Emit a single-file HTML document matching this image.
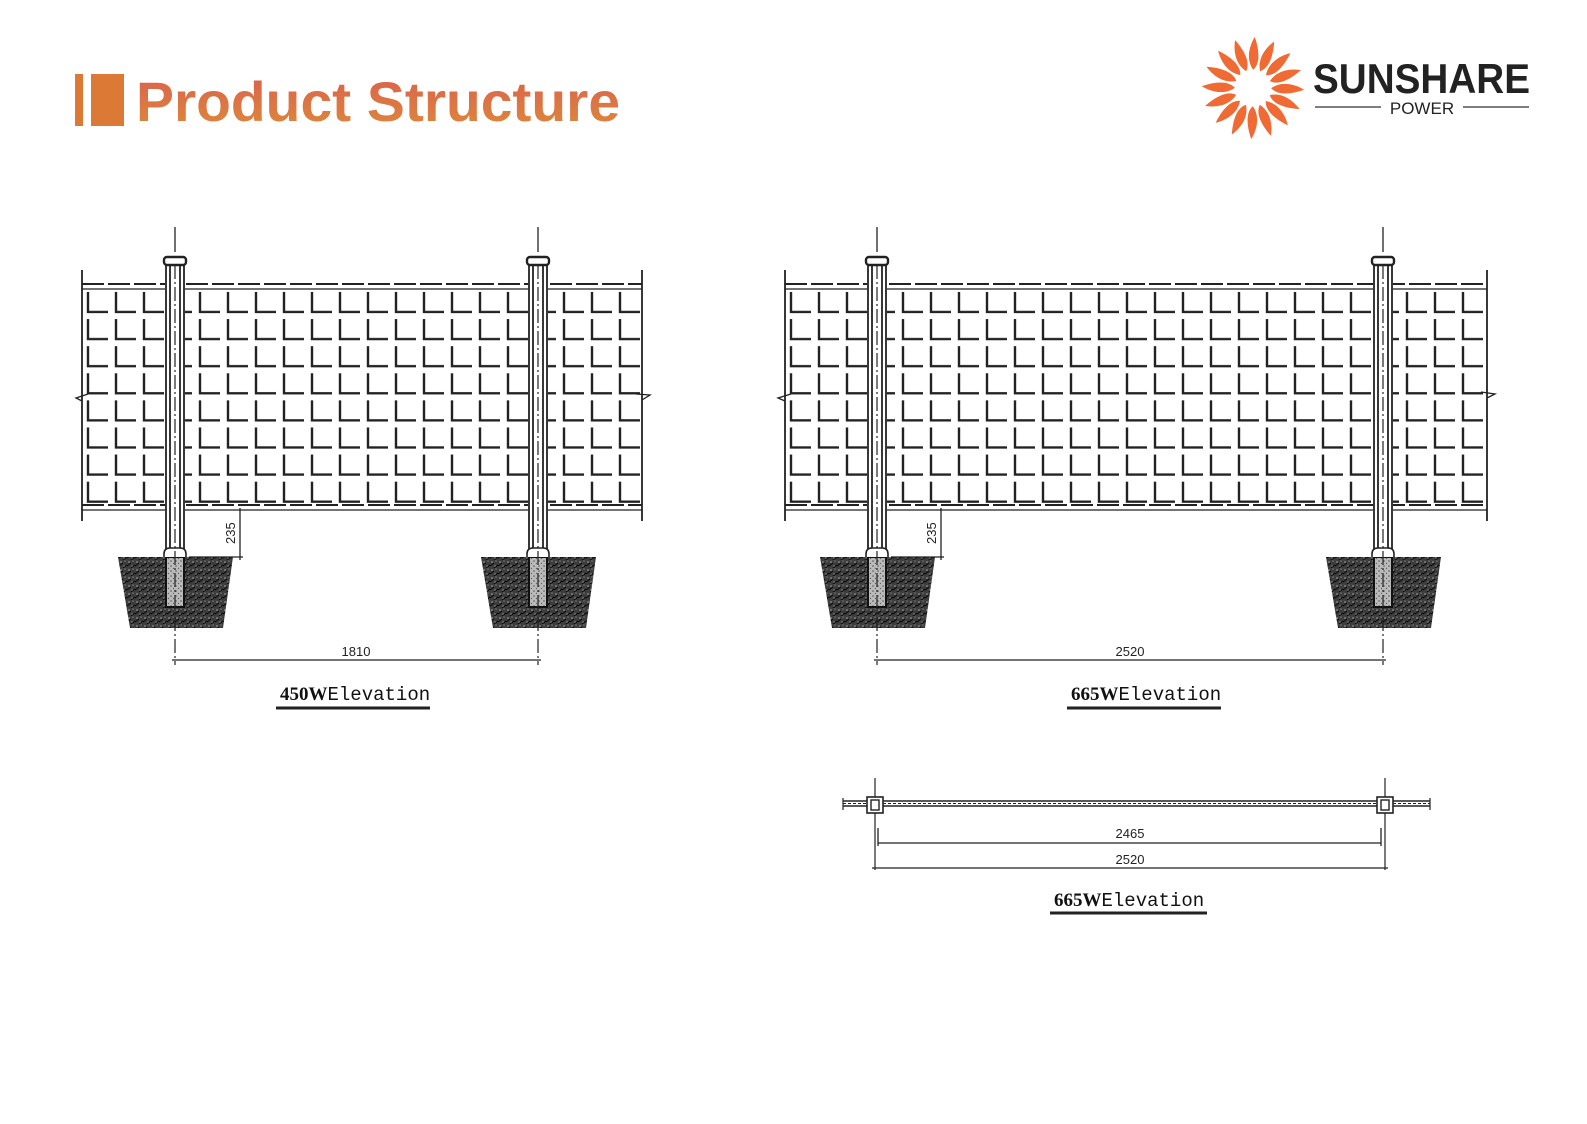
<!DOCTYPE html>
<html><head><meta charset="utf-8">
<style>
html,body{margin:0;padding:0;background:#fff;}
body{width:1587px;height:1119px;position:relative;overflow:hidden;font-family:"Liberation Sans",sans-serif;}
</style></head>
<body>
<svg width="1587" height="1119" viewBox="0 0 1587 1119" xmlns="http://www.w3.org/2000/svg">
<defs>
<linearGradient id="tg" x1="0" y1="0" x2="0" y2="1">
<stop offset="0" stop-color="#d95f4e"/><stop offset="1" stop-color="#de8a3a"/>
</linearGradient>
<pattern id="gL" x="82" y="289" width="28" height="27.1" patternUnits="userSpaceOnUse">
<path d="M6 3 V23 H26" fill="none" stroke="#222" stroke-width="2.4"/>
</pattern>
<pattern id="gR" x="785" y="289" width="28" height="27.1" patternUnits="userSpaceOnUse">
<path d="M6 3 V23 H26" fill="none" stroke="#222" stroke-width="2.4"/>
</pattern>
<pattern id="soil" width="8" height="8" patternUnits="userSpaceOnUse">
<rect width="8" height="8" fill="#3e3e3e"/>
<path d="M0 6 L4 3 M4 8 L8 5" stroke="#111" stroke-width="1.4"/>
<circle cx="2" cy="2" r="0.8" fill="#aaa"/><circle cx="6" cy="1" r="0.6" fill="#999"/><circle cx="5" cy="6" r="0.6" fill="#bbb"/>
</pattern>
<pattern id="conc" width="5" height="5" patternUnits="userSpaceOnUse">
<rect width="5" height="5" fill="#bbb"/><circle cx="1" cy="1" r="0.8" fill="#555"/><circle cx="3.5" cy="3.5" r="0.7" fill="#666"/>
</pattern>
<g id="post">
<rect x="-10" y="265" width="20" height="290" fill="#fff"/>
<line x1="0" y1="227" x2="0" y2="252" stroke="#222" stroke-width="1.3"/>
<rect x="-11" y="257" width="22" height="8" rx="3" fill="#fff" stroke="#222" stroke-width="2.4"/>
<path d="M-9 265 V552 M9 265 V552 M-5 265 V552 M5 265 V552" stroke="#222" stroke-width="1.8"/>
<path d="M-57 557 H58 L48 628 H-45 Z" fill="url(#soil)"/>
<rect x="-9" y="557" width="18" height="50" fill="url(#conc)" stroke="#111" stroke-width="2"/>
<path d="M-11 557 V554 Q-11 548 -5 548 H5 Q11 548 11 554 V557" fill="#fff" stroke="#222" stroke-width="1.6"/>
<line x1="0" y1="265" x2="0" y2="665" stroke="#222" stroke-width="1.2" stroke-dasharray="14,3,2,3"/>
</g>
</defs>

<!-- Title -->
<rect x="75" y="74" width="8" height="52" fill="#dc7a35"/>
<rect x="91" y="74" width="33" height="52" fill="#dc7a35"/>
<text x="136" y="121" font-family="'Liberation Sans',sans-serif" font-weight="bold" font-size="56" fill="url(#tg)" textLength="484" lengthAdjust="spacingAndGlyphs">Product Structure</text>

<!-- Logo -->
<g transform="translate(1253,88)" fill="#f06a33" stroke="#fff" stroke-width="1.6">
<g id="pet"><path d="M0 -17 C9 -24 7 -39 2 -53 C-4 -44 -9 -29 0 -17 Z"/></g>
<use href="#pet" transform="rotate(22.5)"/><use href="#pet" transform="rotate(45)"/><use href="#pet" transform="rotate(67.5)"/>
<use href="#pet" transform="rotate(90)"/><use href="#pet" transform="rotate(112.5)"/><use href="#pet" transform="rotate(135)"/>
<use href="#pet" transform="rotate(157.5)"/><use href="#pet" transform="rotate(180)"/><use href="#pet" transform="rotate(202.5)"/>
<use href="#pet" transform="rotate(225)"/><use href="#pet" transform="rotate(247.5)"/><use href="#pet" transform="rotate(270)"/>
<use href="#pet" transform="rotate(292.5)"/><use href="#pet" transform="rotate(315)"/><use href="#pet" transform="rotate(337.5)"/>
</g>
<text x="1313" y="93" font-family="'Liberation Sans',sans-serif" font-weight="bold" font-size="42" fill="#222" textLength="217" lengthAdjust="spacingAndGlyphs">SUNSHARE</text>
<line x1="1315" y1="107" x2="1381" y2="107" stroke="#333" stroke-width="1.2"/>
<line x1="1463" y1="107" x2="1529" y2="107" stroke="#333" stroke-width="1.2"/>
<text x="1422" y="114" text-anchor="middle" font-size="17" fill="#222">POWER</text>

<!-- Left elevation -->
<g stroke="#222" fill="none">
<rect x="84" y="289" width="558" height="216" fill="url(#gL)" stroke="none"/>
<line x1="82" y1="270" x2="82" y2="521" stroke-width="1.8"/>
<line x1="642" y1="270" x2="642" y2="521" stroke-width="1.8"/>
<line x1="82" y1="284" x2="642" y2="284" stroke-width="2" stroke-dasharray="22,4"/>
<line x1="82" y1="289" x2="642" y2="289" stroke-width="1.2"/>
<line x1="82" y1="505" x2="642" y2="505" stroke-width="2" stroke-dasharray="22,4"/>
<line x1="82" y1="510" x2="642" y2="510" stroke-width="1.2"/>
<path d="M88 394 L76 398 L82 401" stroke-width="1.3"/>
<path d="M636 394 L650 395 L642 400" stroke-width="1.3"/>
</g>
<use href="#post" x="175"/>
<use href="#post" x="538"/>
<g stroke="#222" stroke-width="1.3" fill="none">
<line x1="240" y1="508" x2="240" y2="560"/>
<line x1="189" y1="557" x2="243" y2="557"/>
<line x1="172" y1="660" x2="541" y2="660"/>
</g>
<text x="0" y="0" font-size="13" transform="translate(235,544) rotate(-90)" fill="#222">235</text>
<text x="356" y="656" text-anchor="middle" font-size="13" fill="#222">1810</text>
<text x="280" y="700" font-size="19" fill="#111"><tspan font-family="'Liberation Serif',serif" font-weight="bold" font-size="19">450W</tspan><tspan font-family="'Liberation Mono',monospace">Elevation</tspan></text>
<line x1="276" y1="708" x2="430" y2="708" stroke="#222" stroke-width="3"/>

<!-- Right elevation -->
<g stroke="#222" fill="none">
<rect x="787" y="289" width="700" height="216" fill="url(#gR)" stroke="none"/>
<line x1="785" y1="270" x2="785" y2="521" stroke-width="1.8"/>
<line x1="1487" y1="270" x2="1487" y2="521" stroke-width="1.8"/>
<line x1="785" y1="284" x2="1487" y2="284" stroke-width="2" stroke-dasharray="22,4"/>
<line x1="785" y1="289" x2="1487" y2="289" stroke-width="1.2"/>
<line x1="785" y1="505" x2="1487" y2="505" stroke-width="2" stroke-dasharray="22,4"/>
<line x1="785" y1="510" x2="1487" y2="510" stroke-width="1.2"/>
<path d="M791 394 L778 398 L785 401" stroke-width="1.3"/>
<path d="M1481 392 L1495 394 L1487 398" stroke-width="1.3"/>
</g>
<use href="#post" x="877"/>
<use href="#post" x="1383"/>
<g stroke="#222" stroke-width="1.3" fill="none">
<line x1="941" y1="508" x2="941" y2="560"/>
<line x1="891" y1="557" x2="944" y2="557"/>
<line x1="874" y1="660" x2="1386" y2="660"/>
</g>
<text x="0" y="0" font-size="13" transform="translate(936,544) rotate(-90)" fill="#222">235</text>
<text x="1130" y="656" text-anchor="middle" font-size="13" fill="#222">2520</text>
<text x="1071" y="700" font-size="19" fill="#111"><tspan font-family="'Liberation Serif',serif" font-weight="bold" font-size="19">665W</tspan><tspan font-family="'Liberation Mono',monospace">Elevation</tspan></text>
<line x1="1067" y1="708" x2="1221" y2="708" stroke="#222" stroke-width="3"/>

<!-- Plan view -->
<g stroke="#222" fill="none">
<line x1="843" y1="801" x2="1430" y2="801" stroke-width="1.5"/>
<line x1="843" y1="806" x2="1430" y2="806" stroke-width="1.5"/>
<line x1="843" y1="803.5" x2="1430" y2="803.5" stroke-width="1" stroke-dasharray="3,2"/>
<line x1="875" y1="778" x2="875" y2="870" stroke-width="1.2"/>
<line x1="1385" y1="778" x2="1385" y2="870" stroke-width="1.2"/>
<rect x="867" y="797" width="16" height="16" fill="#fff" stroke-width="1.6"/>
<rect x="871" y="800" width="8" height="10" stroke-width="1.4"/>
<rect x="1377" y="797" width="16" height="16" fill="#fff" stroke-width="1.6"/>
<rect x="1381" y="800" width="8" height="10" stroke-width="1.4"/>
<line x1="878" y1="843" x2="1381" y2="843" stroke-width="1.3"/>
<line x1="878" y1="828" x2="878" y2="846" stroke-width="1.3"/>
<line x1="1381" y1="828" x2="1381" y2="846" stroke-width="1.3"/>
<line x1="872" y1="868" x2="1388" y2="868" stroke-width="1.3"/>
<line x1="843" y1="798" x2="843" y2="810" stroke-width="1.2"/>
<line x1="1430" y1="798" x2="1430" y2="810" stroke-width="1.2"/>
</g>
<text x="1130" y="838" text-anchor="middle" font-size="13" fill="#222">2465</text>
<text x="1130" y="864" text-anchor="middle" font-size="13" fill="#222">2520</text>
<text x="1054" y="906" font-size="19" fill="#111"><tspan font-family="'Liberation Serif',serif" font-weight="bold" font-size="19">665W</tspan><tspan font-family="'Liberation Mono',monospace">Elevation</tspan></text>
<line x1="1050" y1="913" x2="1207" y2="913" stroke="#222" stroke-width="3"/>
</svg>
</body></html>
